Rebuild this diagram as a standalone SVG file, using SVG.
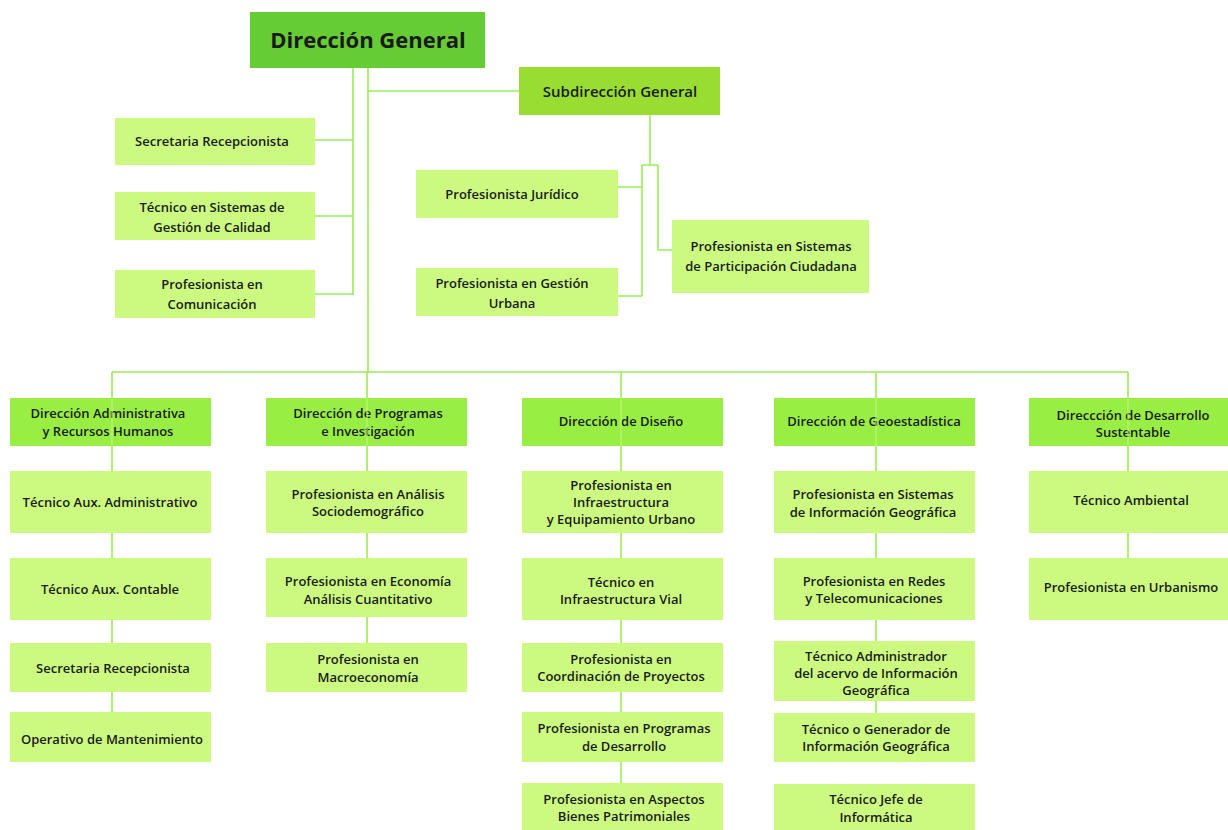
<svg xmlns="http://www.w3.org/2000/svg" width="1228" height="830" viewBox="0 0 1228 830">
<style>
.box{fill:#ccfa80}
.hdr{fill:#99ee44}
.top{fill:#66cc33}
.sub{fill:#99dd33}
text{font-family:"Open Sans","Liberation Sans",sans-serif;font-weight:600;font-size:13px;fill:#1a1a1a;text-anchor:middle}
.big{font-size:22px;font-weight:700}
.mid{font-size:15px}
.ln{stroke:#99ee55;stroke-width:1.6;fill:none}
.ov{stroke:#c4f888;stroke-width:1.4;stroke-opacity:0.7;fill:none}
</style>
<rect width="1228" height="830" fill="#ffffff"/>
<g id="connectors">
<path class="ln" d="M353 68V295M315 140H353M315 216H353M315 294H353"/>
<path class="ln" d="M368 68V372M368 91H519"/>
<path class="ln" d="M650 115V165M642 165H658M642 165V296M618 187H642M618 296H642M658 165V250H672"/>
<path class="ln" d="M112 372H1128M112 372V471M367 372V471M621 372V471M876 372V471M1128 372V471"/>
<path class="ln" d="M112 533V558M112 620V643M112 692V712"/>
<path class="ln" d="M367 533V558M367 617V643"/>
<path class="ln" d="M621 533V558M621 620V643M621 692V712M621 762V783"/>
<path class="ln" d="M876 533V558M876 620V641M876 701V713"/>
<path class="ln" d="M1128 533V558"/>
</g>
<g id="n-dg"><rect class="top" x="250" y="12" width="235" height="56"/><text class="big" x="368" y="48">Dirección General</text></g>
<g id="n-sg"><rect class="sub" x="519" y="67" width="201" height="48"/><text class="mid" x="620" y="97">Subdirección General</text></g>
<g id="n-sr1"><rect class="box" x="115" y="118" width="200" height="47"/><text x="212" y="146">Secretaria Recepcionista</text></g>
<g id="n-tsgc"><rect class="box" x="115" y="192" width="200" height="48"/><text x="212" y="212">Técnico en Sistemas de</text><text x="212" y="232">Gestión de Calidad</text></g>
<g id="n-pc"><rect class="box" x="115" y="270" width="200" height="48"/><text x="212" y="289">Profesionista en</text><text x="212" y="309">Comunicación</text></g>
<g id="n-pj"><rect class="box" x="416" y="170" width="202" height="48"/><text x="512" y="199">Profesionista Jurídico</text></g>
<g id="n-pgu"><rect class="box" x="416" y="268" width="202" height="48"/><text x="512" y="288">Profesionista en Gestión</text><text x="512" y="308">Urbana</text></g>
<g id="n-pspc"><rect class="box" x="672" y="220" width="197" height="73"/><text x="771" y="251">Profesionista en Sistemas</text><text x="771" y="271">de Participación Ciudadana</text></g>

<g id="n-dar"><rect class="hdr" x="10" y="398" width="201" height="48"/><text x="108" y="418">Dirección Administrativa</text><text x="108" y="436">y Recursos Humanos</text></g>
<g id="n-taa"><rect class="box" x="10" y="471" width="201" height="62"/><text x="110" y="507">Técnico Aux. Administrativo</text></g>
<g id="n-tac"><rect class="box" x="10" y="558" width="201" height="62"/><text x="110" y="594">Técnico Aux. Contable</text></g>
<g id="n-sr2"><rect class="box" x="10" y="643" width="201" height="49"/><text x="113" y="673">Secretaria Recepcionista</text></g>
<g id="n-om"><rect class="box" x="10" y="712" width="201" height="50"/><text x="112" y="744">Operativo de Mantenimiento</text></g>

<g id="n-dpi"><rect class="hdr" x="266" y="398" width="201" height="48"/><text x="368" y="418">Dirección de Programas</text><text x="368" y="436">e Investigación</text></g>
<g id="n-pas"><rect class="box" x="266" y="471" width="201" height="62"/><text x="368" y="499">Profesionista en Análisis</text><text x="368" y="516">Sociodemográfico</text></g>
<g id="n-peac"><rect class="box" x="266" y="558" width="201" height="59"/><text x="368" y="586">Profesionista en Economía</text><text x="368" y="604">Análisis Cuantitativo</text></g>
<g id="n-pm"><rect class="box" x="266" y="643" width="201" height="49"/><text x="368" y="664">Profesionista en</text><text x="368" y="682">Macroeconomía</text></g>

<g id="n-dd"><rect class="hdr" x="522" y="398" width="201" height="48"/><text x="621" y="426">Dirección de Diseño</text></g>
<g id="n-pieu"><rect class="box" x="522" y="471" width="201" height="62"/><text x="621" y="490">Profesionista en</text><text x="621" y="507">Infraestructura</text><text x="621" y="524">y Equipamiento Urbano</text></g>
<g id="n-tiv"><rect class="box" x="522" y="558" width="201" height="62"/><text x="621" y="587">Técnico en</text><text x="621" y="604">Infraestructura Vial</text></g>
<g id="n-pcp"><rect class="box" x="522" y="643" width="201" height="49"/><text x="621" y="664">Profesionista en</text><text x="621" y="681">Coordinación de Proyectos</text></g>
<g id="n-ppd"><rect class="box" x="522" y="712" width="201" height="50"/><text x="624" y="733">Profesionista en Programas</text><text x="624" y="751">de Desarrollo</text></g>
<g id="n-pabp"><rect class="box" x="522" y="783" width="201" height="47"/><text x="624" y="804">Profesionista en Aspectos</text><text x="624" y="821">Bienes Patrimoniales</text></g>

<g id="n-dgeo"><rect class="hdr" x="774" y="398" width="201" height="48"/><text x="874" y="426">Dirección de Geoestadística</text></g>
<g id="n-psig"><rect class="box" x="774" y="471" width="201" height="62"/><text x="873" y="499">Profesionista en Sistemas</text><text x="873" y="517">de Información Geográfica</text></g>
<g id="n-prt"><rect class="box" x="774" y="558" width="201" height="62"/><text x="874" y="586">Profesionista en Redes</text><text x="874" y="603">y Telecomunicaciones</text></g>
<g id="n-taig"><rect class="box" x="774" y="641" width="201" height="60"/><text x="876" y="661">Técnico Administrador</text><text x="876" y="678">del acervo de Información</text><text x="876" y="695">Geográfica</text></g>
<g id="n-tgig"><rect class="box" x="774" y="713" width="201" height="49"/><text x="876" y="734">Técnico o Generador de</text><text x="876" y="751">Información Geográfica</text></g>
<g id="n-tji"><rect class="box" x="774" y="784" width="201" height="46"/><text x="876" y="804">Técnico Jefe de</text><text x="876" y="822">Informática</text></g>

<g id="n-dds"><rect class="hdr" x="1029" y="398" width="199" height="48"/><text x="1133" y="420">Direccción de Desarrollo</text><text x="1133" y="437">Sustentable</text></g>
<g id="n-ta"><rect class="box" x="1029" y="471" width="199" height="62"/><text x="1131" y="505">Técnico Ambiental</text></g>
<g id="n-pu"><rect class="box" x="1029" y="558" width="199" height="62"/><text x="1131" y="592">Profesionista en Urbanismo</text></g>

<g id="connector-overlay">
<path class="ov" d="M112 398V446M367 398V446M621 398V446M876 398V446M1128 398V446"/>
</g>
</svg>
